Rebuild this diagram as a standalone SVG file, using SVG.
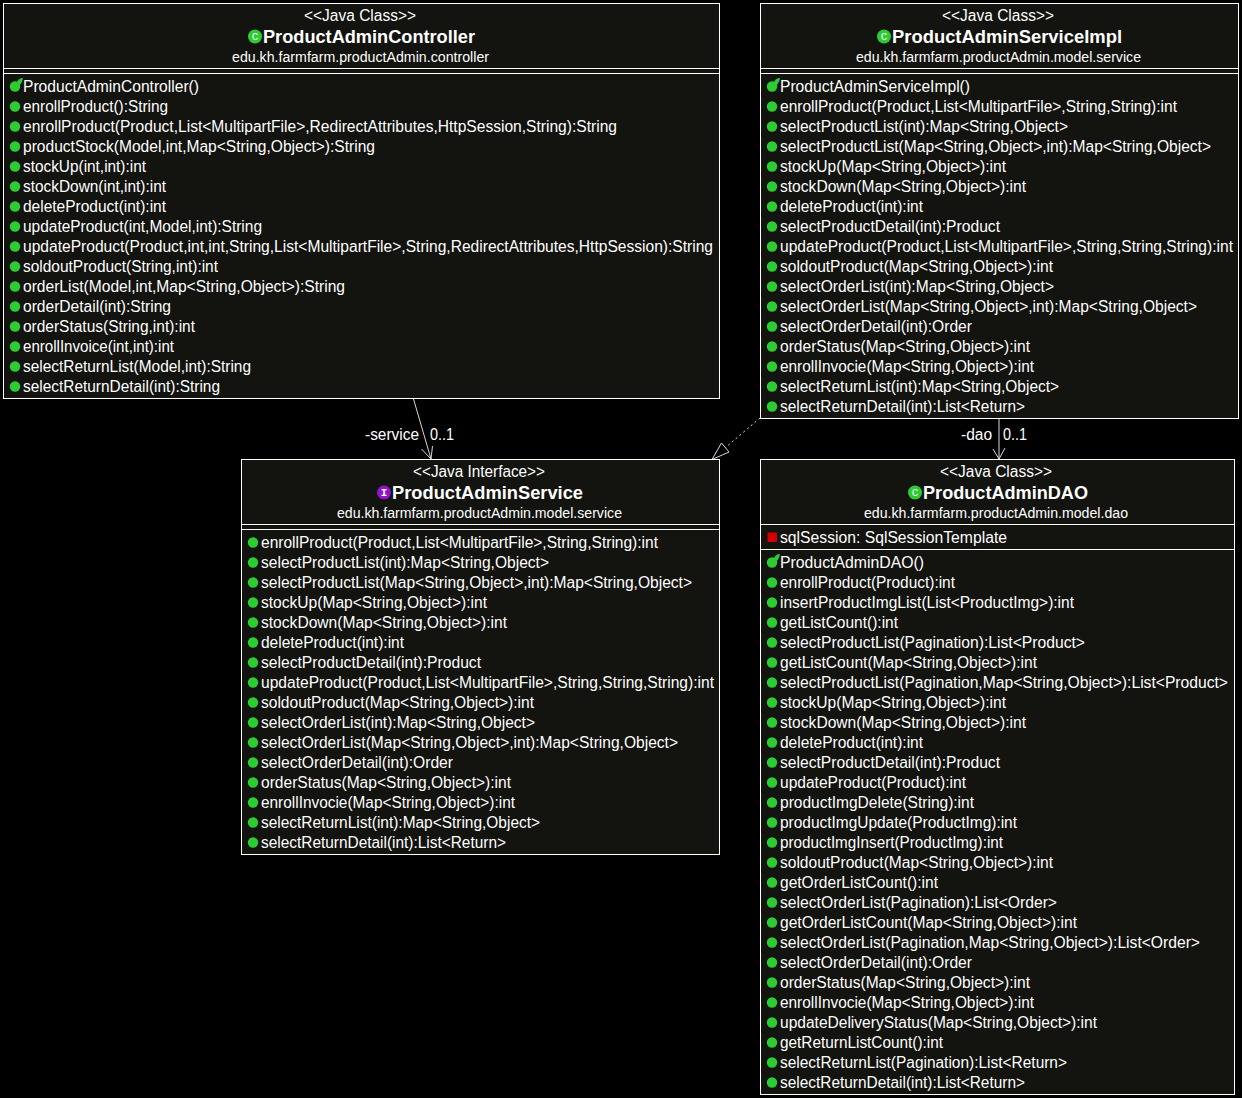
<svg xmlns="http://www.w3.org/2000/svg" width="1242" height="1098" viewBox="0 0 1242 1098">
<style>
text{font-family:"Liberation Sans",Arial,sans-serif;fill:#fff;white-space:pre}
.b{fill:#13130f;stroke:#fff;stroke-width:1}
.l{stroke:#fff;stroke-width:1;fill:none}
.s{font-size:16px}
.t{font-size:18px;font-weight:bold}
.p{font-size:14px}
.m{font-size:16px}
.d{fill:#2ecc33}
circle.d{r:5.200px;transform:translateY(.5px)}
circle.k{r:7px}
.i{fill:#9013c8;transform:translateY(.5px)}
.r{fill:#d40000}
.e{stroke:#d8d8d8;stroke-width:1;fill:none}
.spot{font-family:"Liberation Mono",monospace;font-size:11px;text-anchor:middle}
</style>
<defs>
<g id="ctor"><circle class="d"/><path d="M1.500 -3.500C3 -6 5 -8 8 -8C7.500 -6 7 -4 6 -2.500L3.500 0.500Z" class="d"/></g>
</defs>
<rect width="1242" height="1098" fill="#000"/>
<g id="connectors">
<path class="e" d="M413.500 399L431 459"/><path class="e" d="M421.500 449L431 459L432.500 446"/>
<path class="e" d="M999 419V459"/><path class="e" d="M993 449L999 459L1005 448"/>
<path class="e" stroke-dasharray="2 3" d="M760 418L725 448"/><path class="e" d="M712 459.500L721.500 443L729 452Z"/>
<text class="m" x="365" y="440" textLength="54" lengthAdjust="spacingAndGlyphs">-service</text>
<text class="m" x="430" y="440" textLength="24" lengthAdjust="spacingAndGlyphs">0..1</text>
<text class="m" x="961" y="440" textLength="31" lengthAdjust="spacingAndGlyphs">-dao</text>
<text class="m" x="1003" y="440" textLength="24" lengthAdjust="spacingAndGlyphs">0..1</text>
</g>
<g id="ProductAdminController">
<rect class="b" x="3.500" y="3.500" width="716" height="395"/>
<path class="l" d="M3.500 68.500H719.500M3.500 73.500H719.500"/>
<text class="s" x="304" y="21" textLength="112" lengthAdjust="spacingAndGlyphs">&lt;&lt;Java Class&gt;&gt;</text>
<circle class="d k" cx="255" cy="36"/><text class="spot" x="255" y="40">C</text>
<text class="t" x="263" y="43" textLength="212" lengthAdjust="spacingAndGlyphs">ProductAdminController</text>
<text class="p" x="232" y="62" textLength="257" lengthAdjust="spacingAndGlyphs">edu.kh.farmfarm.productAdmin.controller</text>
<use href="#ctor" x="15" y="86"/>
<circle class="d" cx="15" cy="106"/><circle class="d" cx="15" cy="126"/><circle class="d" cx="15" cy="146"/><circle class="d" cx="15" cy="166"/><circle class="d" cx="15" cy="186"/><circle class="d" cx="15" cy="206"/><circle class="d" cx="15" cy="226"/><circle class="d" cx="15" cy="246"/><circle class="d" cx="15" cy="266"/><circle class="d" cx="15" cy="286"/><circle class="d" cx="15" cy="306"/><circle class="d" cx="15" cy="326"/><circle class="d" cx="15" cy="346"/><circle class="d" cx="15" cy="366"/><circle class="d" cx="15" cy="386"/>
<text class="m" x="23" y="92" textLength="176" lengthAdjust="spacingAndGlyphs">ProductAdminController()</text>
<text class="m" x="23" y="112" textLength="145" lengthAdjust="spacingAndGlyphs">enrollProduct():String</text>
<text class="m" x="23" y="132" textLength="594" lengthAdjust="spacingAndGlyphs">enrollProduct(Product,List&lt;MultipartFile&gt;,RedirectAttributes,HttpSession,String):String</text>
<text class="m" x="23" y="152" textLength="352" lengthAdjust="spacingAndGlyphs">productStock(Model,int,Map&lt;String,Object&gt;):String</text>
<text class="m" x="23" y="172" textLength="123" lengthAdjust="spacingAndGlyphs">stockUp(int,int):int</text>
<text class="m" x="23" y="192" textLength="143" lengthAdjust="spacingAndGlyphs">stockDown(int,int):int</text>
<text class="m" x="23" y="212" textLength="143" lengthAdjust="spacingAndGlyphs">deleteProduct(int):int</text>
<text class="m" x="23" y="232" textLength="239" lengthAdjust="spacingAndGlyphs">updateProduct(int,Model,int):String</text>
<text class="m" x="23" y="252" textLength="690" lengthAdjust="spacingAndGlyphs">updateProduct(Product,int,int,String,List&lt;MultipartFile&gt;,String,RedirectAttributes,HttpSession):String</text>
<text class="m" x="23" y="272" textLength="195" lengthAdjust="spacingAndGlyphs">soldoutProduct(String,int):int</text>
<text class="m" x="23" y="292" textLength="322" lengthAdjust="spacingAndGlyphs">orderList(Model,int,Map&lt;String,Object&gt;):String</text>
<text class="m" x="23" y="312" textLength="148" lengthAdjust="spacingAndGlyphs">orderDetail(int):String</text>
<text class="m" x="23" y="332" textLength="172" lengthAdjust="spacingAndGlyphs">orderStatus(String,int):int</text>
<text class="m" x="23" y="352" textLength="151" lengthAdjust="spacingAndGlyphs">enrollInvoice(int,int):int</text>
<text class="m" x="23" y="372" textLength="228" lengthAdjust="spacingAndGlyphs">selectReturnList(Model,int):String</text>
<text class="m" x="23" y="392" textLength="197" lengthAdjust="spacingAndGlyphs">selectReturnDetail(int):String</text>
</g>
<g id="ProductAdminServiceImpl">
<rect class="b" x="760.500" y="3.500" width="478" height="415"/>
<path class="l" d="M760.500 68.500H1238.500M760.500 73.500H1238.500"/>
<text class="s" x="942" y="21" textLength="112" lengthAdjust="spacingAndGlyphs">&lt;&lt;Java Class&gt;&gt;</text>
<circle class="d k" cx="884" cy="36"/><text class="spot" x="884" y="40">C</text>
<text class="t" x="892" y="43" textLength="230" lengthAdjust="spacingAndGlyphs">ProductAdminServiceImpl</text>
<text class="p" x="856" y="62" textLength="285" lengthAdjust="spacingAndGlyphs">edu.kh.farmfarm.productAdmin.model.service</text>
<use href="#ctor" x="772" y="86"/>
<circle class="d" cx="772" cy="106"/><circle class="d" cx="772" cy="126"/><circle class="d" cx="772" cy="146"/><circle class="d" cx="772" cy="166"/><circle class="d" cx="772" cy="186"/><circle class="d" cx="772" cy="206"/><circle class="d" cx="772" cy="226"/><circle class="d" cx="772" cy="246"/><circle class="d" cx="772" cy="266"/><circle class="d" cx="772" cy="286"/><circle class="d" cx="772" cy="306"/><circle class="d" cx="772" cy="326"/><circle class="d" cx="772" cy="346"/><circle class="d" cx="772" cy="366"/><circle class="d" cx="772" cy="386"/><circle class="d" cx="772" cy="406"/>
<text class="m" x="780" y="92" textLength="190" lengthAdjust="spacingAndGlyphs">ProductAdminServiceImpl()</text>
<text class="m" x="780" y="112" textLength="397" lengthAdjust="spacingAndGlyphs">enrollProduct(Product,List&lt;MultipartFile&gt;,String,String):int</text>
<text class="m" x="780" y="132" textLength="288" lengthAdjust="spacingAndGlyphs">selectProductList(int):Map&lt;String,Object&gt;</text>
<text class="m" x="780" y="152" textLength="431" lengthAdjust="spacingAndGlyphs">selectProductList(Map&lt;String,Object&gt;,int):Map&lt;String,Object&gt;</text>
<text class="m" x="780" y="172" textLength="226" lengthAdjust="spacingAndGlyphs">stockUp(Map&lt;String,Object&gt;):int</text>
<text class="m" x="780" y="192" textLength="246" lengthAdjust="spacingAndGlyphs">stockDown(Map&lt;String,Object&gt;):int</text>
<text class="m" x="780" y="212" textLength="143" lengthAdjust="spacingAndGlyphs">deleteProduct(int):int</text>
<text class="m" x="780" y="232" textLength="220" lengthAdjust="spacingAndGlyphs">selectProductDetail(int):Product</text>
<text class="m" x="780" y="252" textLength="453" lengthAdjust="spacingAndGlyphs">updateProduct(Product,List&lt;MultipartFile&gt;,String,String,String):int</text>
<text class="m" x="780" y="272" textLength="273" lengthAdjust="spacingAndGlyphs">soldoutProduct(Map&lt;String,Object&gt;):int</text>
<text class="m" x="780" y="292" textLength="274" lengthAdjust="spacingAndGlyphs">selectOrderList(int):Map&lt;String,Object&gt;</text>
<text class="m" x="780" y="312" textLength="417" lengthAdjust="spacingAndGlyphs">selectOrderList(Map&lt;String,Object&gt;,int):Map&lt;String,Object&gt;</text>
<text class="m" x="780" y="332" textLength="192" lengthAdjust="spacingAndGlyphs">selectOrderDetail(int):Order</text>
<text class="m" x="780" y="352" textLength="250" lengthAdjust="spacingAndGlyphs">orderStatus(Map&lt;String,Object&gt;):int</text>
<text class="m" x="780" y="372" textLength="254" lengthAdjust="spacingAndGlyphs">enrollInvocie(Map&lt;String,Object&gt;):int</text>
<text class="m" x="780" y="392" textLength="279" lengthAdjust="spacingAndGlyphs">selectReturnList(int):Map&lt;String,Object&gt;</text>
<text class="m" x="780" y="412" textLength="245" lengthAdjust="spacingAndGlyphs">selectReturnDetail(int):List&lt;Return&gt;</text>
</g>
<g id="ProductAdminService">
<rect class="b" x="241.500" y="459.500" width="478" height="395"/>
<path class="l" d="M241.500 524.500H719.500M241.500 529.500H719.500"/>
<text class="s" x="413" y="477" textLength="132" lengthAdjust="spacingAndGlyphs">&lt;&lt;Java Interface&gt;&gt;</text>
<circle class="i" r="7" cx="384" cy="492"/><text class="spot" x="384" y="496" font-weight="bold">I</text>
<text class="t" x="392" y="499" textLength="191" lengthAdjust="spacingAndGlyphs">ProductAdminService</text>
<text class="p" x="337" y="518" textLength="285" lengthAdjust="spacingAndGlyphs">edu.kh.farmfarm.productAdmin.model.service</text>
<circle class="d" cx="253" cy="542"/><circle class="d" cx="253" cy="562"/><circle class="d" cx="253" cy="582"/><circle class="d" cx="253" cy="602"/><circle class="d" cx="253" cy="622"/><circle class="d" cx="253" cy="642"/><circle class="d" cx="253" cy="662"/><circle class="d" cx="253" cy="682"/><circle class="d" cx="253" cy="702"/><circle class="d" cx="253" cy="722"/><circle class="d" cx="253" cy="742"/><circle class="d" cx="253" cy="762"/><circle class="d" cx="253" cy="782"/><circle class="d" cx="253" cy="802"/><circle class="d" cx="253" cy="822"/><circle class="d" cx="253" cy="842"/>
<text class="m" x="261" y="548" textLength="397" lengthAdjust="spacingAndGlyphs">enrollProduct(Product,List&lt;MultipartFile&gt;,String,String):int</text>
<text class="m" x="261" y="568" textLength="288" lengthAdjust="spacingAndGlyphs">selectProductList(int):Map&lt;String,Object&gt;</text>
<text class="m" x="261" y="588" textLength="431" lengthAdjust="spacingAndGlyphs">selectProductList(Map&lt;String,Object&gt;,int):Map&lt;String,Object&gt;</text>
<text class="m" x="261" y="608" textLength="226" lengthAdjust="spacingAndGlyphs">stockUp(Map&lt;String,Object&gt;):int</text>
<text class="m" x="261" y="628" textLength="246" lengthAdjust="spacingAndGlyphs">stockDown(Map&lt;String,Object&gt;):int</text>
<text class="m" x="261" y="648" textLength="143" lengthAdjust="spacingAndGlyphs">deleteProduct(int):int</text>
<text class="m" x="261" y="668" textLength="220" lengthAdjust="spacingAndGlyphs">selectProductDetail(int):Product</text>
<text class="m" x="261" y="688" textLength="453" lengthAdjust="spacingAndGlyphs">updateProduct(Product,List&lt;MultipartFile&gt;,String,String,String):int</text>
<text class="m" x="261" y="708" textLength="273" lengthAdjust="spacingAndGlyphs">soldoutProduct(Map&lt;String,Object&gt;):int</text>
<text class="m" x="261" y="728" textLength="274" lengthAdjust="spacingAndGlyphs">selectOrderList(int):Map&lt;String,Object&gt;</text>
<text class="m" x="261" y="748" textLength="417" lengthAdjust="spacingAndGlyphs">selectOrderList(Map&lt;String,Object&gt;,int):Map&lt;String,Object&gt;</text>
<text class="m" x="261" y="768" textLength="192" lengthAdjust="spacingAndGlyphs">selectOrderDetail(int):Order</text>
<text class="m" x="261" y="788" textLength="250" lengthAdjust="spacingAndGlyphs">orderStatus(Map&lt;String,Object&gt;):int</text>
<text class="m" x="261" y="808" textLength="254" lengthAdjust="spacingAndGlyphs">enrollInvocie(Map&lt;String,Object&gt;):int</text>
<text class="m" x="261" y="828" textLength="279" lengthAdjust="spacingAndGlyphs">selectReturnList(int):Map&lt;String,Object&gt;</text>
<text class="m" x="261" y="848" textLength="245" lengthAdjust="spacingAndGlyphs">selectReturnDetail(int):List&lt;Return&gt;</text>
</g>
<g id="ProductAdminDAO">
<rect class="b" x="760.500" y="459.500" width="474" height="635"/>
<path class="l" d="M760.500 524.500H1234.500M760.500 549.500H1234.500"/>
<text class="s" x="940" y="477" textLength="112" lengthAdjust="spacingAndGlyphs">&lt;&lt;Java Class&gt;&gt;</text>
<circle class="d k" cx="915" cy="492"/><text class="spot" x="915" y="496">C</text>
<text class="t" x="923" y="499" textLength="165" lengthAdjust="spacingAndGlyphs">ProductAdminDAO</text>
<text class="p" x="864" y="518" textLength="264" lengthAdjust="spacingAndGlyphs">edu.kh.farmfarm.productAdmin.model.dao</text>
<rect class="r" x="767.500" y="532.500" width="9.500" height="9.500" rx="1"/>
<text class="m" x="780" y="543" textLength="227" lengthAdjust="spacingAndGlyphs">sqlSession: SqlSessionTemplate</text>
<use href="#ctor" x="772" y="562"/>
<circle class="d" cx="772" cy="582"/><circle class="d" cx="772" cy="602"/><circle class="d" cx="772" cy="622"/><circle class="d" cx="772" cy="642"/><circle class="d" cx="772" cy="662"/><circle class="d" cx="772" cy="682"/><circle class="d" cx="772" cy="702"/><circle class="d" cx="772" cy="722"/><circle class="d" cx="772" cy="742"/><circle class="d" cx="772" cy="762"/><circle class="d" cx="772" cy="782"/><circle class="d" cx="772" cy="802"/><circle class="d" cx="772" cy="822"/><circle class="d" cx="772" cy="842"/><circle class="d" cx="772" cy="862"/><circle class="d" cx="772" cy="882"/><circle class="d" cx="772" cy="902"/><circle class="d" cx="772" cy="922"/><circle class="d" cx="772" cy="942"/><circle class="d" cx="772" cy="962"/><circle class="d" cx="772" cy="982"/><circle class="d" cx="772" cy="1002"/><circle class="d" cx="772" cy="1022"/><circle class="d" cx="772" cy="1042"/><circle class="d" cx="772" cy="1062"/><circle class="d" cx="772" cy="1082"/>
<text class="m" x="780" y="568" textLength="144" lengthAdjust="spacingAndGlyphs">ProductAdminDAO()</text>
<text class="m" x="780" y="588" textLength="175" lengthAdjust="spacingAndGlyphs">enrollProduct(Product):int</text>
<text class="m" x="780" y="608" textLength="294" lengthAdjust="spacingAndGlyphs">insertProductImgList(List&lt;ProductImg&gt;):int</text>
<text class="m" x="780" y="628" textLength="118" lengthAdjust="spacingAndGlyphs">getListCount():int</text>
<text class="m" x="780" y="648" textLength="305" lengthAdjust="spacingAndGlyphs">selectProductList(Pagination):List&lt;Product&gt;</text>
<text class="m" x="780" y="668" textLength="257" lengthAdjust="spacingAndGlyphs">getListCount(Map&lt;String,Object&gt;):int</text>
<text class="m" x="780" y="688" textLength="448" lengthAdjust="spacingAndGlyphs">selectProductList(Pagination,Map&lt;String,Object&gt;):List&lt;Product&gt;</text>
<text class="m" x="780" y="708" textLength="226" lengthAdjust="spacingAndGlyphs">stockUp(Map&lt;String,Object&gt;):int</text>
<text class="m" x="780" y="728" textLength="246" lengthAdjust="spacingAndGlyphs">stockDown(Map&lt;String,Object&gt;):int</text>
<text class="m" x="780" y="748" textLength="143" lengthAdjust="spacingAndGlyphs">deleteProduct(int):int</text>
<text class="m" x="780" y="768" textLength="220" lengthAdjust="spacingAndGlyphs">selectProductDetail(int):Product</text>
<text class="m" x="780" y="788" textLength="186" lengthAdjust="spacingAndGlyphs">updateProduct(Product):int</text>
<text class="m" x="780" y="808" textLength="194" lengthAdjust="spacingAndGlyphs">productImgDelete(String):int</text>
<text class="m" x="780" y="828" textLength="237" lengthAdjust="spacingAndGlyphs">productImgUpdate(ProductImg):int</text>
<text class="m" x="780" y="848" textLength="223" lengthAdjust="spacingAndGlyphs">productImgInsert(ProductImg):int</text>
<text class="m" x="780" y="868" textLength="273" lengthAdjust="spacingAndGlyphs">soldoutProduct(Map&lt;String,Object&gt;):int</text>
<text class="m" x="780" y="888" textLength="158" lengthAdjust="spacingAndGlyphs">getOrderListCount():int</text>
<text class="m" x="780" y="908" textLength="277" lengthAdjust="spacingAndGlyphs">selectOrderList(Pagination):List&lt;Order&gt;</text>
<text class="m" x="780" y="928" textLength="297" lengthAdjust="spacingAndGlyphs">getOrderListCount(Map&lt;String,Object&gt;):int</text>
<text class="m" x="780" y="948" textLength="420" lengthAdjust="spacingAndGlyphs">selectOrderList(Pagination,Map&lt;String,Object&gt;):List&lt;Order&gt;</text>
<text class="m" x="780" y="968" textLength="192" lengthAdjust="spacingAndGlyphs">selectOrderDetail(int):Order</text>
<text class="m" x="780" y="988" textLength="250" lengthAdjust="spacingAndGlyphs">orderStatus(Map&lt;String,Object&gt;):int</text>
<text class="m" x="780" y="1008" textLength="254" lengthAdjust="spacingAndGlyphs">enrollInvocie(Map&lt;String,Object&gt;):int</text>
<text class="m" x="780" y="1028" textLength="317" lengthAdjust="spacingAndGlyphs">updateDeliveryStatus(Map&lt;String,Object&gt;):int</text>
<text class="m" x="780" y="1048" textLength="163" lengthAdjust="spacingAndGlyphs">getReturnListCount():int</text>
<text class="m" x="780" y="1068" textLength="287" lengthAdjust="spacingAndGlyphs">selectReturnList(Pagination):List&lt;Return&gt;</text>
<text class="m" x="780" y="1088" textLength="245" lengthAdjust="spacingAndGlyphs">selectReturnDetail(int):List&lt;Return&gt;</text>
</g>
</svg>
